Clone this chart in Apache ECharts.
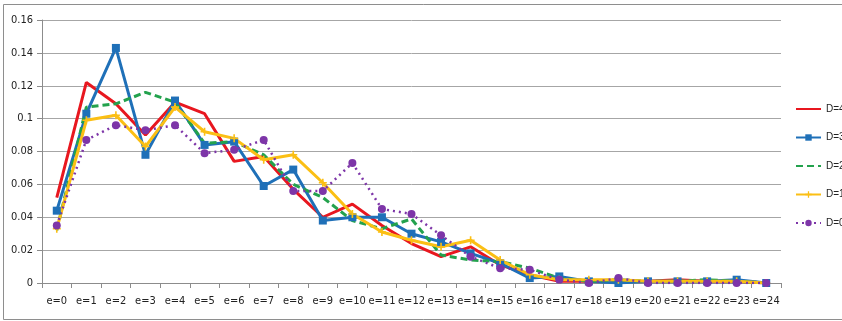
<!DOCTYPE html>
<html>
<head>
<meta charset="utf-8">
<script src="https://cdn.jsdelivr.net/npm/echarts@6/dist/echarts.min.js"></script>
<style>
html,body{margin:0;padding:0;background:#fff;}
#c{width:842px;height:321px;}
</style>
</head>
<body>
<div id="c"></div>
<script>
var categories = ['e=0','e=1','e=2','e=3','e=4','e=5','e=6','e=7','e=8','e=9','e=10','e=11','e=12','e=13','e=14','e=15','e=16','e=17','e=18','e=19','e=20','e=21','e=22','e=23','e=24'];
var d4 = [0.052,0.122,0.109,0.090,0.110,0.103,0.074,0.077,0.057,0.040,0.048,0.035,0.024,0.016,0.022,0.011,0.005,0.001,0.001,0.001,0.001,0.002,0.001,0.001,0.000];
var d3 = [0.044,0.103,0.143,0.078,0.111,0.084,0.086,0.059,0.069,0.038,0.040,0.040,0.030,0.025,0.018,0.012,0.003,0.004,0.001,0.000,0.001,0.001,0.001,0.002,0.000];
var d2 = [0.032,0.107,0.109,0.116,0.110,0.085,0.086,0.078,0.060,0.052,0.038,0.033,0.039,0.017,0.014,0.013,0.009,0.003,0.001,0.002,0.001,0.001,0.002,0.001,0.000];
var d1 = [0.033,0.099,0.102,0.083,0.107,0.092,0.088,0.075,0.078,0.061,0.042,0.031,0.026,0.022,0.026,0.014,0.005,0.002,0.002,0.002,0.001,0.001,0.001,0.001,0.000];
var d0 = [0.035,0.087,0.096,0.093,0.096,0.079,0.081,0.087,0.056,0.056,0.073,0.045,0.042,0.029,0.016,0.009,0.008,0.002,0.000,0.003,0.000,0.000,0.000,0.000,0.000];
var yTicks = [0,0.02,0.04,0.06,0.08,0.1,0.12,0.14,0.16];
var legendNames = ['D=4','D=3','D=2','D=1','D=0'];

var font = '"Liberation Sans Narrow","DejaVu Sans Condensed",sans-serif';
var legendFont = '"Liberation Sans Narrow","Liberation Sans",sans-serif';
var chart = echarts.init(document.getElementById('c'), null, {renderer:'canvas'});
var plus = 'path://M0,4L10,4L10,6L0,6Z M4,0L6,0L6,10L4,10Z';
chart.setOption({
  animation:false,
  backgroundColor:'#fff',
  graphic:[{type:'rect',shape:{x:3.5,y:4.5,width:860,height:315},style:{fill:'none',stroke:'#8e8e8e',lineWidth:1},z:-1}],
  grid:{left:42,right:61,top:20,bottom:38,containLabel:false},
  legend:{
    type:'plain', orient:'vertical', left:795, top:104, width:80, height:150, padding:0,
    itemWidth:25, itemHeight:8, itemGap:18.5,
    textStyle:{fontFamily:legendFont,fontSize:10,color:'#222',overflow:'none'},
    data:[
      {name:legendNames[0],itemStyle:{opacity:0}},
      {name:legendNames[1]},
      {name:legendNames[2],itemStyle:{opacity:0}},
      {name:legendNames[3]},
      {name:legendNames[4]}
    ]
  },
  xAxis:{
    type:'category', data:categories, boundaryGap:true,
    axisLine:{lineStyle:{color:'#8c8c8c',width:1}},
    axisTick:{show:true,alignWithLabel:false,length:5,lineStyle:{color:'#8c8c8c'}},
    axisLabel:{interval:0,margin:13,fontFamily:font,fontSize:11,color:'#222'}
  },
  yAxis:{
    type:'value', min:0, max:0.16, interval:0.02,
    axisLine:{show:true,lineStyle:{color:'#8c8c8c'}},
    axisTick:{show:true,inside:false,length:5,lineStyle:{color:'#8c8c8c'}},
    splitLine:{lineStyle:{color:'#a6a6a6',width:1}},
    axisLabel:{margin:9,fontFamily:font,fontSize:11,color:'#222',
      formatter:function(v){var s=yTicks.filter(function(t){return Math.abs(t-v)<1e-9;})[0];return s===undefined?'':String(+s.toFixed(2));}}
  },
  series:[
    {name:'D=4',type:'line',data:d4,symbol:'none',lineStyle:{color:'#e8171f',width:3},itemStyle:{color:'#e8171f'}},
    {name:'D=3',type:'line',data:d3,symbol:'rect',symbolSize:8,lineStyle:{color:'#1f70b8',width:3},itemStyle:{color:'#1f70b8'}},
    {name:'D=2',type:'line',data:d2,symbol:'none',lineStyle:{color:'#23a24d',width:3,type:[7,4]},itemStyle:{color:'#23a24d'}},
    {name:'D=1',type:'line',data:d1,symbol:plus,symbolSize:8,lineStyle:{color:'#fbbf14',width:3},itemStyle:{color:'#fbbf14'}},
    {name:'D=0',type:'line',data:d0,symbol:'circle',symbolSize:8,lineStyle:{color:'#7d35a8',width:2.5,type:[2,4]},itemStyle:{color:'#7d35a8'}}
  ]
});
</script>
</body>
</html>
